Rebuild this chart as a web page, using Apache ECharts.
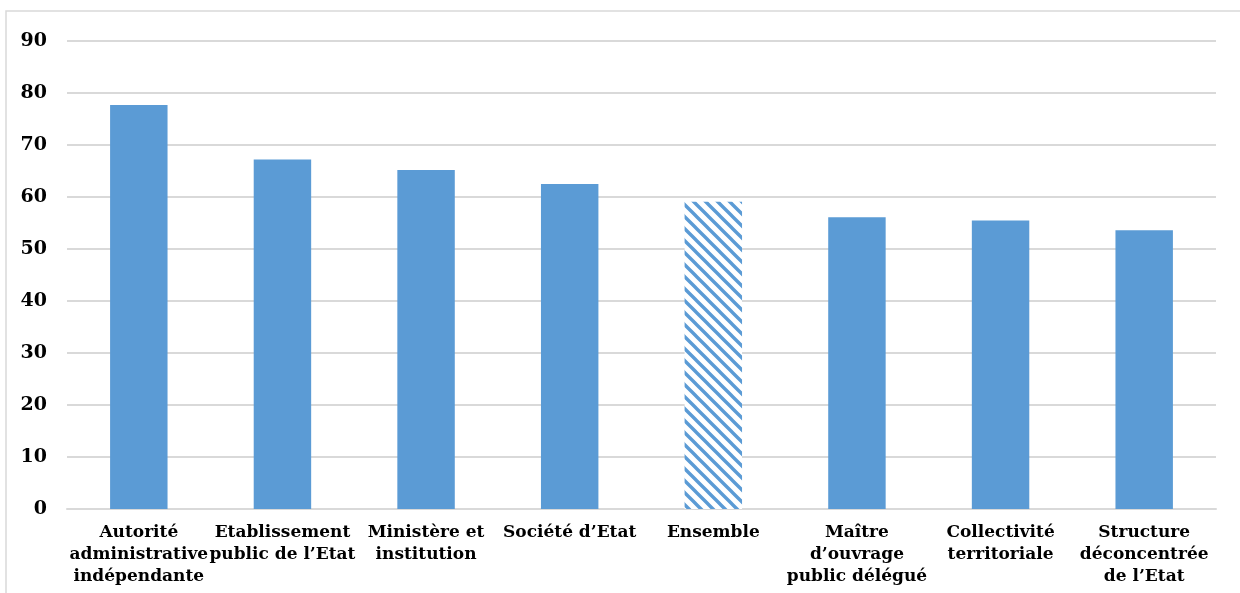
<!DOCTYPE html>
<html><head><meta charset="utf-8">
<script src="https://cdn.jsdelivr.net/npm/echarts@6/dist/echarts.min.js"></script>
<style>html,body{margin:0;padding:0;background:#fff}#c{width:1240px;height:593px}</style>
</head><body><div id="c"></div>
<script>
const categories = ["Autorité\nadministrative\nindépendante", "Etablissement\npublic de l’Etat", "Ministère et\ninstitution", "Société d’Etat", "Ensemble", "Maître\nd’ouvrage\npublic délégué", "Collectivité\nterritoriale", "Structure\ndéconcentrée\nde l’Etat"];
const values = [77.7, 67.2, 65.2, 62.5, 59.1, 56.1, 55.5, 53.6];
const hatchedCategory = "Ensemble";
const yTicks = [0, 10, 20, 30, 40, 50, 60, 70, 80, 90];

const blue = '#5b9bd5';
function hatch() {
  const s = 12;
  const cv = document.createElement('canvas');
  cv.width = s; cv.height = s;
  const ctx = cv.getContext('2d');
  ctx.fillStyle = '#fff'; ctx.fillRect(0, 0, s, s);
  ctx.strokeStyle = blue; ctx.lineWidth = 3.4;
  ctx.beginPath();
  ctx.moveTo(-3, -3); ctx.lineTo(s + 3, s + 3);
  ctx.moveTo(-3, s - 3); ctx.lineTo(3, s + 3);
  ctx.moveTo(s - 3, -3); ctx.lineTo(s + 3, 3);
  ctx.stroke();
  return { image: cv, repeat: 'repeat' };
}
const pattern = hatch();
const font = '"DejaVu Serif", serif';
const chart = echarts.init(document.getElementById('c'), null, { renderer: 'canvas' });
chart.setOption({
  animation: false,
  backgroundColor: '#fff',
  graphic: [{ type: 'rect', shape: { x: 6, y: 11, width: 1260, height: 620 }, style: { fill: 'none', stroke: '#d9d9d9', lineWidth: 1.5 }, silent: true }],
  grid: { left: 67, right: 24, top: 41, bottom: 84, containLabel: false },
  xAxis: {
    type: 'category', data: categories,
    axisLine: { lineStyle: { color: '#d9d9d9', width: 2 } },
    axisTick: { show: false },
    axisLabel: { interval: 0, color: '#000', fontFamily: font, fontWeight: 'bold', fontSize: 17, lineHeight: 22, margin: 13 }
  },
  yAxis: {
    type: 'value', min: yTicks[0], max: yTicks[yTicks.length - 1], interval: 10,
    axisLine: { show: false }, axisTick: { show: false },
    splitLine: { lineStyle: { color: '#d9d9d9', width: 2 } },
    axisLabel: { color: '#000', fontFamily: font, fontWeight: 'bold', fontSize: 19, margin: 20 }
  },
  series: [{
    type: 'bar', barWidth: '40%',
    data: values.map((v, i) => ({
      value: v,
      itemStyle: { color: categories[i] === hatchedCategory ? pattern : blue }
    }))
  }]
});
</script></body></html>
